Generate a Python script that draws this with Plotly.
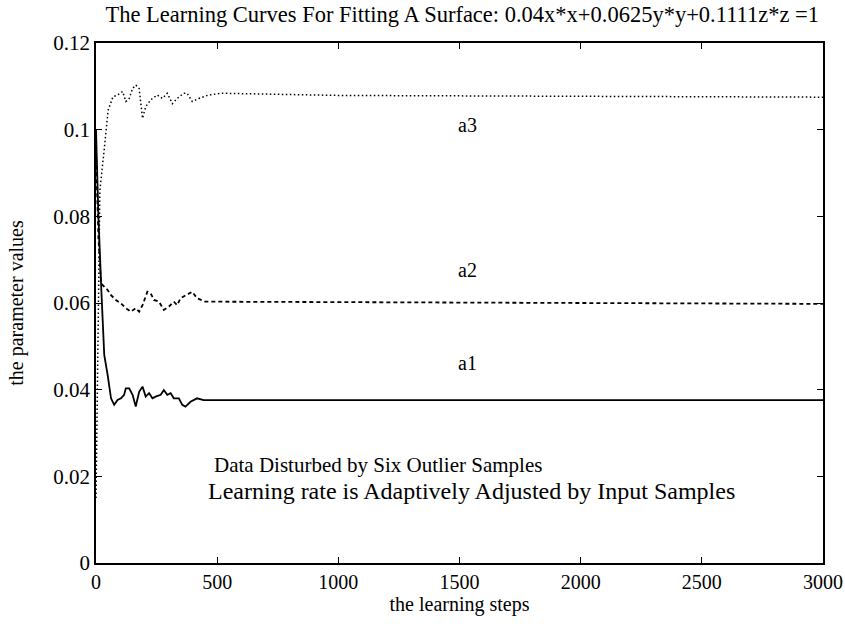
import plotly.graph_objects as go

# learning steps and parameter estimates for the three surface coefficients
steps_a1 = [0, 10, 22, 34, 48, 62, 75, 89, 103, 116, 123, 137, 151, 164, 178, 192, 205, 219,
            233, 246, 267, 280, 294, 308, 321, 342, 356, 369, 390, 417, 444, 526, 1000,
            1500, 2000, 2500, 3000]
a1 = [0.100, 0.080, 0.063, 0.048, 0.0434, 0.038, 0.0365, 0.0376, 0.038, 0.0388, 0.0403,
      0.0403, 0.0388, 0.0361, 0.0395, 0.0407, 0.0384, 0.0392, 0.038, 0.0384, 0.0388, 0.0399,
      0.0388, 0.0392, 0.038, 0.038, 0.0365, 0.0361, 0.0372, 0.038, 0.0376, 0.0376, 0.0377,
      0.0377, 0.0376, 0.0376, 0.0376]

steps_a2 = [0, 10, 21, 48, 62, 82, 103, 123, 144, 164, 178, 192, 212, 226, 239, 260, 280,
            301, 321, 335, 349, 369, 397, 417, 451, 520, 1000, 1500, 2000, 2500, 3000]
a2 = [0.095, 0.075, 0.0645, 0.063, 0.0618, 0.0607, 0.0599, 0.0588, 0.058, 0.0588, 0.058,
      0.0595, 0.0626, 0.0622, 0.0607, 0.0603, 0.0584, 0.0592, 0.0603, 0.0595, 0.0611, 0.0618,
      0.0626, 0.0611, 0.0603, 0.0603, 0.0602, 0.0602, 0.0600, 0.0599, 0.0598]

steps_a3 = [0, 8, 16, 35, 50, 70, 89, 110, 123, 137, 151, 164, 178, 192, 205, 226, 253, 274,
            294, 315, 335, 362, 376, 397, 424, 465, 520, 1000, 1500, 2000, 2500, 3000]
a3 = [0.015, 0.050, 0.086, 0.096, 0.1045, 0.1076, 0.108, 0.1088, 0.1065, 0.1072, 0.1095,
      0.1103, 0.1095, 0.1026, 0.1053, 0.1069, 0.108, 0.1072, 0.1084, 0.106, 0.1072, 0.1084,
      0.1084, 0.1065, 0.1072, 0.108, 0.1084, 0.1079, 0.1078, 0.1077, 0.1076, 0.1075]

x_ticks = [0, 500, 1000, 1500, 2000, 2500, 3000]
y_ticks = [0, 0.02, 0.04, 0.06, 0.08, 0.1, 0.12]
y_tick_text = ["0", "0.02", "0.04", "0.06", "0.08", "0.1", "0.12"]

FONT = "Liberation Serif"

fig = go.Figure()
fig.add_trace(go.Scatter(x=steps_a1, y=a1, mode="lines", name="a1",
                         line=dict(color="black", width=1.8, dash="solid")))
fig.add_trace(go.Scatter(x=steps_a2, y=a2, mode="lines", name="a2",
                         line=dict(color="black", width=1.8, dash="4px,3px")))
fig.add_trace(go.Scatter(x=steps_a3, y=a3, mode="lines", name="a3",
                         line=dict(color="black", width=1.5, dash="1.5px,2.5px")))

labels = [(1535, 0.101, "a3"), (1535, 0.0676, "a2"), (1535, 0.0462, "a1")]
for lx, ly, txt in labels:
    fig.add_annotation(x=lx, y=ly, text=txt, showarrow=False,
                       font=dict(family=FONT, size=20, color="black"))

fig.add_annotation(x=480, y=0.0226, text="Data Disturbed by Six Outlier Samples",
                   showarrow=False, xanchor="left",
                   font=dict(family=FONT, size=21, color="black"))
fig.add_annotation(x=455, y=0.0166,
                   text="Learning rate is Adaptively Adjusted by Input Samples",
                   showarrow=False, xanchor="left",
                   font=dict(family=FONT, size=24, color="black"))

fig.update_layout(
    width=845, height=639,
    margin=dict(l=96, r=22, t=43, b=76),
    paper_bgcolor="white", plot_bgcolor="white",
    showlegend=False,
    font=dict(family=FONT, size=20, color="black"),
    title=dict(text="The Learning Curves For Fitting A Surface: 0.04x*x+0.0625y*y+0.1111z*z =1",
               x=0.547, xanchor="center", y=0.978, yanchor="middle",
               font=dict(family=FONT, size=22.5, color="black")),
)
fig.update_xaxes(range=[0, 3000], tickvals=x_ticks, ticks="inside", ticklen=6,
                 tickcolor="black", showline=True, linecolor="black", linewidth=1.5,
                 mirror="ticks", showgrid=False, zeroline=False,
                 ticklabeloverflow="allow", automargin=False,
                 tickfont=dict(family=FONT, size=20),
                 title=dict(text="the learning steps", standoff=5,
                            font=dict(family=FONT, size=20)))
fig.update_yaxes(range=[0, 0.12], tickvals=y_ticks, ticktext=y_tick_text, ticks="inside",
                 ticklen=6, tickcolor="black", showline=True, linecolor="black",
                 linewidth=1.5, mirror="ticks", showgrid=False, zeroline=False,
                 ticklabeloverflow="allow", automargin=False,
                 tickfont=dict(family=FONT, size=21),
                 title=dict(text="the parameter values", standoff=24,
                            font=dict(family=FONT, size=20)))

fig.write_html("out.html")
